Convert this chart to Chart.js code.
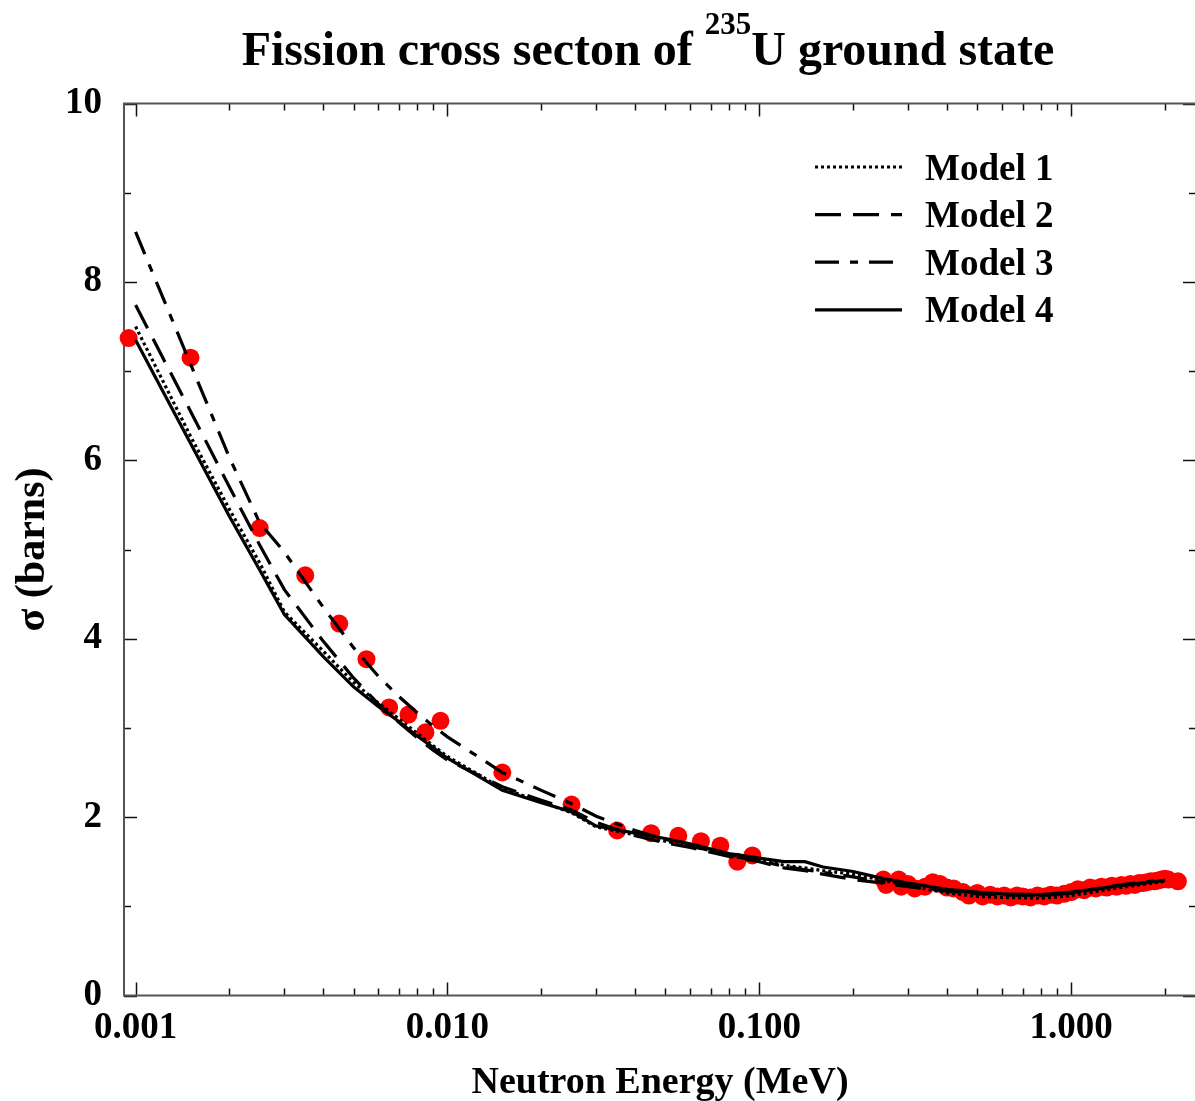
<!DOCTYPE html>
<html><head><meta charset="utf-8">
<script src="https://cdn.jsdelivr.net/npm/chart.js@4.4.1/dist/chart.umd.min.js"></script>
<style>html,body{margin:0;padding:0;overflow:hidden;background:#fff;width:1195px;height:1101px}canvas{display:block}</style>
</head><body>
<canvas id="c" width="1205" height="1101" style="width:1205px;height:1101px"></canvas>
<script>
const titleMain = 'Fission cross secton of ';
const titleSup = '235';
const titleEnd = 'U ground state';
const xAxisTitle = 'Neutron Energy (MeV)';
const yAxisTitle = 'σ (barns)';
const modelLabels = ['Model 1', 'Model 2', 'Model 3', 'Model 4'];

const modelEnergies = [0.001, 0.0015, 0.002, 0.0025, 0.003, 0.004, 0.005, 0.006, 0.007, 0.008, 0.009, 0.01,
  0.015, 0.02, 0.025, 0.03, 0.04, 0.05, 0.06, 0.08, 0.1, 0.12, 0.14, 0.16, 0.2, 0.25, 0.3, 0.4, 0.5, 0.6, 0.8, 1.0, 1.5, 2.0];
const model1 = [7.50, 6.27, 5.45, 4.85, 4.30, 3.86, 3.51, 3.28, 3.10, 2.94, 2.80, 2.68,
  2.32, 2.17, 2.05, 1.89, 1.80, 1.73, 1.68, 1.58, 1.52, 1.46, 1.43, 1.40, 1.36, 1.29, 1.23, 1.15, 1.11, 1.10, 1.09, 1.12, 1.22, 1.28];
const model2 = [7.74, 6.55, 5.70, 5.05, 4.55, 3.97, 3.56, 3.27, 3.06, 2.89, 2.75, 2.64,
  2.34, 2.19, 2.08, 1.94, 1.79, 1.71, 1.66, 1.56, 1.50, 1.43, 1.40, 1.36, 1.30, 1.26, 1.22, 1.17, 1.14, 1.13, 1.12, 1.15, 1.24, 1.29];
const model3 = [8.56, 7.08, 6.03, 5.30, 4.97, 4.35, 3.90, 3.58, 3.35, 3.17, 3.02, 2.90,
  2.50, 2.30, 2.15, 2.01, 1.85, 1.75, 1.68, 1.57, 1.51, 1.45, 1.41, 1.38, 1.33, 1.27, 1.23, 1.18, 1.15, 1.13, 1.12, 1.15, 1.25, 1.30];
const model4 = [7.35, 6.19, 5.37, 4.77, 4.27, 3.80, 3.46, 3.24, 3.07, 2.91, 2.78, 2.66,
  2.30, 2.16, 2.06, 1.90, 1.82, 1.76, 1.70, 1.59, 1.54, 1.50, 1.50, 1.44, 1.39, 1.31, 1.26, 1.19, 1.16, 1.14, 1.13, 1.16, 1.24, 1.29];

const expEnergies = [0.00095, 0.0015, 0.0025, 0.0035, 0.0045, 0.0055, 0.0065, 0.0075, 0.0085, 0.0095,
  0.015, 0.025, 0.035, 0.045, 0.055, 0.065, 0.075, 0.085, 0.095,
  0.25, 0.255, 0.28, 0.285, 0.30, 0.315, 0.34, 0.36, 0.38, 0.40, 0.42, 0.45, 0.47, 0.50, 0.52, 0.55, 0.58, 0.61, 0.64, 0.67,
  0.70, 0.74, 0.78, 0.82, 0.86, 0.90, 0.95, 1.00, 1.05, 1.10, 1.15, 1.20, 1.25, 1.30, 1.35, 1.40, 1.45, 1.50, 1.55, 1.60,
  1.65, 1.70, 1.75, 1.80, 1.85, 1.90, 1.95, 2.00, 2.05, 2.20];
const expSigma = [7.37, 7.15, 5.24, 4.71, 4.17, 3.77, 3.23, 3.15, 2.95, 3.08,
  2.50, 2.14, 1.85, 1.82, 1.79, 1.73, 1.68, 1.50, 1.57,
  1.30, 1.24, 1.30, 1.22, 1.25, 1.20, 1.22, 1.27, 1.25, 1.21, 1.20, 1.16, 1.12, 1.15, 1.11, 1.13, 1.11, 1.12, 1.10, 1.12,
  1.11, 1.10, 1.12, 1.11, 1.13, 1.12, 1.14, 1.16, 1.19, 1.18, 1.21, 1.20, 1.22, 1.21, 1.23, 1.22, 1.24, 1.23, 1.25, 1.24,
  1.26, 1.26, 1.27, 1.28, 1.28, 1.29, 1.30, 1.31, 1.30, 1.28];

const xTickValues = [0.001, 0.01, 0.1, 1];
const xTickLabels = ['0.001', '0.010', '0.100', '1.000'];
const yTickValues = [0, 2, 4, 6, 8, 10];
const yTickLabels = ['0', '2', '4', '6', '8', '10'];

const FONT = '"Liberation Serif", "Times New Roman", serif';
const modelSeries = [model1, model2, model3, model4];
const modelDashes = [[3, 3], [26, 12], [24, 11, 8, 11], []];

const datasets = modelSeries.map((s, i) => ({
  label: modelLabels[i],
  isModel: true,
  data: modelEnergies.map((e, j) => ({x: e, y: s[j]})),
  showLine: true,
  borderColor: '#000',
  backgroundColor: '#000',
  borderWidth: 3.2,
  borderDash: modelDashes[i],
  pointRadius: 0,
  tension: 0,
  order: 1
}));
datasets.push({
  label: 'Data',
  data: expEnergies.map((e, j) => ({x: e, y: expSigma[j]})),
  showLine: false,
  pointRadius: 9,
  pointBackgroundColor: '#ff0000',
  pointBorderWidth: 0,
  borderWidth: 0,
  clip: false,
  order: 5
});

const framePlugin = {
  id: 'frame',
  beforeDatasetsDraw(chart) {
    const {ctx, chartArea: a, scales: {x, y}} = chart;
    ctx.save();
    ctx.strokeStyle = '#111';
    ctx.lineWidth = 1.5;
    for (let n = -4; n <= 1; n++) {
      for (let k = 1; k <= 9; k++) {
        const v = k * Math.pow(10, n);
        if (v < x.min || v > x.max) continue;
        const px = Math.round(x.getPixelForValue(v)) + 0.5;
        const len = k === 1 ? 13 : 7;
        ctx.beginPath();
        ctx.moveTo(px, a.bottom); ctx.lineTo(px, a.bottom - len);
        ctx.moveTo(px, a.top); ctx.lineTo(px, a.top + len);
        ctx.stroke();
      }
    }
    for (let v = 0; v <= 10; v++) {
      const py = Math.round(y.getPixelForValue(v)) + 0.5;
      const len = yTickValues.includes(v) ? 13 : 7;
      ctx.beginPath();
      ctx.moveTo(a.left, py); ctx.lineTo(a.left + len, py);
      ctx.moveTo(a.right, py); ctx.lineTo(a.right - len, py);
      ctx.stroke();
    }
    ctx.strokeStyle = '#555';
    ctx.lineWidth = 2;
    ctx.strokeRect(a.left, a.top, a.right - a.left, a.bottom - a.top);
    ctx.restore();
  }
};

const textPlugin = {
  id: 'texts',
  afterDraw(chart) {
    const ctx = chart.ctx;
    ctx.save();
    const bigFont = 'bold 48px ' + FONT;
    const supFont = 'bold 31px ' + FONT;
    ctx.font = bigFont;
    const w1 = ctx.measureText(titleMain).width;
    const w3 = ctx.measureText(titleEnd).width;
    ctx.font = supFont;
    const w2 = ctx.measureText(titleSup).width;
    const total = w1 + w2 + w3;
    let tx = 648 - total / 2;
    ctx.fillStyle = '#000';
    ctx.textBaseline = 'alphabetic';
    ctx.textAlign = 'left';
    ctx.font = bigFont; ctx.fillText(titleMain, tx, 65); tx += w1;
    ctx.font = supFont; ctx.fillText(titleSup, tx, 34); tx += w2;
    ctx.font = bigFont; ctx.fillText(titleEnd, tx, 65);
    const models = chart.data.datasets.filter(d => d.isModel);
    models.forEach((d, i) => {
      const ly = 167 + i * 47.6;
      ctx.strokeStyle = d.borderColor;
      ctx.lineWidth = d.borderWidth;
      ctx.setLineDash(d.borderDash || []);
      ctx.beginPath(); ctx.moveTo(815, ly); ctx.lineTo(902, ly); ctx.stroke();
      ctx.setLineDash([]);
      ctx.font = 'bold 37px ' + FONT;
      ctx.textBaseline = 'middle';
      ctx.fillText(d.label, 925, ly + 3);
    });
    ctx.restore();
  }
};

new Chart(document.getElementById('c'), {
  type: 'scatter',
  data: {datasets},
  options: {
    responsive: false,
    animation: false,
    devicePixelRatio: 1,
    layout: {padding: {left: 0, right: 5, top: 103.5, bottom: 0}},
    plugins: {legend: {display: false}, tooltip: {enabled: false}, title: {display: false}},
    scales: {
      x: {
        type: 'logarithmic',
        position: 'bottom',
        min: 0.000918,
        max: 2.514,
        grid: {display: false, drawTicks: false},
        border: {display: false},
        afterBuildTicks: (s) => { s.ticks = xTickValues.map(v => ({value: v})); },
        afterFit: (s) => { s.height = 105.5; },
        ticks: {
          autoSkip: false, maxRotation: 0, minRotation: 0, padding: 11, color: '#000',
          font: {family: FONT, size: 37, weight: 'bold'},
          callback: (v) => { const i = xTickValues.indexOf(v); return i >= 0 ? xTickLabels[i] : ''; }
        },
        title: {display: true, text: xAxisTitle, color: '#000', padding: {top: 0, bottom: -5},
          font: {family: FONT, size: 38, weight: 'bold'}}
      },
      y: {
        type: 'linear',
        min: 0, max: 10,
        grid: {display: false, drawTicks: false},
        border: {display: false},
        afterBuildTicks: (s) => { s.ticks = yTickValues.map(v => ({value: v})); },
        afterFit: (s) => { s.width = 124; },
        ticks: {
          padding: 22, color: '#000',
          font: {family: FONT, size: 37, weight: 'bold'},
          callback: (v) => { const i = yTickValues.indexOf(v); return i >= 0 ? yTickLabels[i] : ''; }
        },
        title: {display: true, text: yAxisTitle, color: '#000', padding: {top: 8, bottom: 0},
          font: {family: FONT, size: 42, weight: 'bold'}}
      }
    }
  },
  plugins: [framePlugin, textPlugin]
});
</script>
</body></html>
